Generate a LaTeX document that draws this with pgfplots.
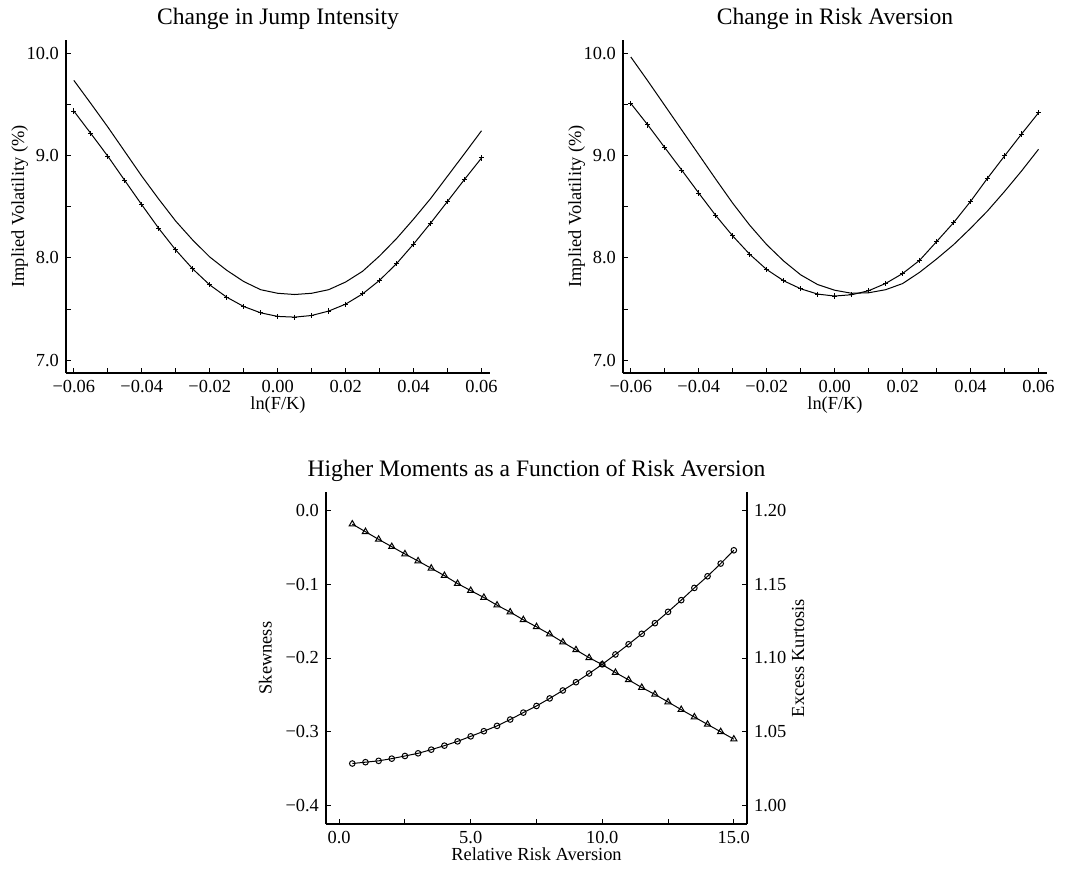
\documentclass[border=0pt]{standalone}
\usepackage{fontspec}
\setmainfont{Liberation Serif}
\usepackage{pgfplots}
\usepackage{pgfplotstable}
\pgfplotsset{compat=1.18}

% x  solid  plus
\pgfplotstableread{
x      a      b
-0.060 9.736 9.436
-0.055 9.510 9.217
-0.050 9.280 8.995
-0.045 9.040 8.757
-0.040 8.800 8.520
-0.035 8.575 8.289
-0.030 8.360 8.078
-0.025 8.175 7.893
-0.020 8.010 7.737
-0.015 7.880 7.617
-0.010 7.770 7.526
-0.005 7.690 7.464
0.000  7.655 7.429
0.005  7.643 7.422
0.010  7.655 7.438
0.015  7.690 7.481
0.020  7.765 7.549
0.025  7.870 7.649
0.030  8.020 7.782
0.035  8.190 7.945
0.040  8.380 8.136
0.045  8.580 8.340
0.050  8.800 8.553
0.055  9.020 8.768
0.060  9.243 8.977
}\jumpdata

\pgfplotstableread{
x      a      b
-0.060 9.964 9.510
-0.055 9.730 9.300
-0.050 9.490 9.078
-0.045 9.250 8.858
-0.040 9.010 8.634
-0.035 8.770 8.415
-0.030 8.535 8.215
-0.025 8.320 8.036
-0.020 8.130 7.887
-0.015 7.970 7.777
-0.010 7.835 7.699
-0.005 7.740 7.647
0.000  7.685 7.628
0.005  7.655 7.641
0.010  7.660 7.680
0.015  7.690 7.751
0.020  7.750 7.848
0.025  7.860 7.977
0.030  7.990 8.160
0.035  8.130 8.345
0.040  8.290 8.553
0.045  8.460 8.780
0.050  8.650 8.997
0.055  8.850 9.211
0.060  9.062 9.419
}\riskdata

% risk aversion, skewness, excess kurtosis
\pgfplotstableread{
g     skew    kurt
0.5  -0.0185 1.0285
1.0  -0.0288 1.0294
1.5  -0.0392 1.0303
2.0  -0.0491 1.0318
2.5  -0.0590 1.0336
3.0  -0.0685 1.0354
3.5  -0.0784 1.0379
4.0  -0.0883 1.0406
4.5  -0.0991 1.0435
5.0  -0.1086 1.0469
5.5  -0.1180 1.0504
6.0  -0.1284 1.0540
6.5  -0.1378 1.0583
7.0  -0.1482 1.0630
7.5  -0.1577 1.0675
8.0  -0.1676 1.0726
8.5  -0.1785 1.0780
9.0  -0.1890 1.0836
9.5  -0.1996 1.0895
10.0 -0.2090 1.0957
10.5 -0.2197 1.1024
11.0 -0.2296 1.1093
11.5 -0.2400 1.1164
12.0 -0.2493 1.1236
12.5 -0.2596 1.1313
13.0 -0.2700 1.1392
13.5 -0.2800 1.1475
14.0 -0.2900 1.1554
14.5 -0.3000 1.1640
15.0 -0.3100 1.1730
}\momdata

\pgfplotsset{
  panel/.style={
    scale only axis,
    scaled ticks=false,
    axis line style={line width=0.6pt, -},
    tick align=inside,
    major tick length=2.4pt, minor tick length=2.4pt,
    tick style={line width=0.5pt, black},
    every tick label/.append style={font=\fontsize{9.2}{11}\selectfont},
    label style={font=\fontsize{9.2}{11}\selectfont},
    title style={font=\fontsize{11.8}{14}\selectfont, yshift=-4.5pt},
    clip=false,
  },
  smile/.style={
    panel,
    axis x line*=bottom, axis y line*=left,
    width=212pt, height=166.5pt,
    xmin=-0.0623, xmax=0.0625,
    ymin=6.876, ymax=10.13,
    xtick={-0.06,-0.04,-0.02,0,0.02,0.04,0.06},
    xticklabels={−0.06,−0.04,−0.02,0.00,0.02,0.04,0.06},
    minor xtick={-0.05,-0.03,-0.01,0.01,0.03,0.05},
    ytick={7,8,9,10},
    yticklabels={7.0,8.0,9.0,10.0},
    minor ytick={7.5,8.5,9.5},
    xlabel={ln(F/K)},
    ylabel={Implied Volatility (\%)},
    xlabel style={yshift=5pt},
    ylabel style={yshift=-7.5pt},
  },
}

\begin{document}
\begin{tikzpicture}
\path[use as bounding box] (-33pt,-247.5pt) rectangle (500pt,186.5pt);

\begin{axis}[smile, at={(0pt,0pt)}, anchor=south west,
  title={Change in Jump Intensity}]
\addplot[black, line width=0.5pt] table[x=x, y=a] {\jumpdata};
\addplot[black, line width=0.5pt, mark=+, mark size=1.3pt] table[x=x, y=b] {\jumpdata};
\end{axis}

\begin{axis}[smile, at={(278.5pt,0pt)}, anchor=south west,
  title={Change in Risk Aversion}]
\addplot[black, line width=0.5pt] table[x=x, y=a] {\riskdata};
\addplot[black, line width=0.5pt, mark=+, mark size=1.3pt] table[x=x, y=b] {\riskdata};
\end{axis}

\begin{axis}[panel, at={(130pt,-225.5pt)}, anchor=south west,
  width=210.5pt, height=166pt,
  axis x line*=bottom, axis y line*=left,
  xmin=-0.5, xmax=15.5, ymin=-0.425, ymax=0.025,
  xtick={0,5,10,15}, xticklabels={0.0,5.0,10.0,15.0},
  minor xtick={2.5,7.5,12.5},
  ytick={-0.4,-0.3,-0.2,-0.1,0}, yticklabels={−0.4,−0.3,−0.2,−0.1,0.0},
  xlabel={Relative Risk Aversion}, ylabel={Skewness},
  xlabel style={yshift=5pt},
  title={Higher Moments as a Function of Risk Aversion}]
\addplot[black, line width=0.5pt, mark=triangle, mark size=1.8pt,
  mark options={fill=white}] table[x=g, y=skew] {\momdata};
\end{axis}

\begin{axis}[panel, at={(130pt,-225.5pt)}, anchor=south west,
  width=210.5pt, height=166pt,
  axis y line*=right, axis x line=none,
  xmin=-0.5, xmax=15.5, ymin=0.9875, ymax=1.2125,
  ytick={1.00,1.05,1.10,1.15,1.20}, yticklabels={1.00,1.05,1.10,1.15,1.20},
  ylabel={Excess Kurtosis}, ylabel style={yshift=4pt}]
\addplot[black, line width=0.5pt, mark=o, mark size=1.4pt,
  mark options={fill=white}] table[x=g, y=kurt] {\momdata};
\end{axis}
\end{tikzpicture}
\end{document}
